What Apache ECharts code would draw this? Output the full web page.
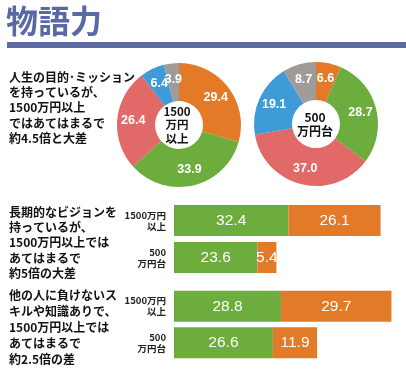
<!DOCTYPE html>
<html>
<head>
<meta charset="utf-8">
<script src="https://cdn.jsdelivr.net/npm/echarts@6/dist/echarts.min.js"></script>
<style>
html,body{margin:0;padding:0;background:#fff;}
#chart{width:406px;height:372px;}
</style>
</head>
<body>
<div id="chart"></div>
<script>
// ---- data ----
const titleText = '物語力';
const pieSliceNames = ['区分1', '区分2', '区分3', '区分4', '区分5'];
const pieHighValues = [29.4, 33.9, 26.4, 6.4, 3.9];   // 1500万円以上
const pieLowValues = [6.6, 28.7, 37.0, 19.1, 8.7];    // 500万円台
const pieHighCenterLabel = '1500\n万円\n以上';
const pieLowCenterLabel = '500\n万円台';
const barGroups = ['1500万円\n以上', '500\n万円台'];
const visionGreen = [32.4, 23.6];
const visionOrange = [26.1, 5.4];
const skillGreen = [28.8, 26.6];
const skillOrange = [29.7, 11.9];
const noteMission = '人生の目的･ミッション\nを持っているが、\n1500万円以上\nではあてはまるで\n約4.5倍と大差';
const noteVision = '長期的なビジョンを\n持っているが、\n1500万円以上では\nあてはまるで\n約5倍の大差';
const noteSkill = '他の人に負けないス\nキルや知識ありで、\n1500万円以上では\nあてはまるで\n約2.5倍の差';

// ---- style ----
const C_ORANGE = '#e37a27';
const C_GREEN = '#6cad3e';
const C_RED = '#e16a69';
const C_BLUE = '#3f9ad8';
const C_GRAY = '#a09b99';
const pieColors = [C_ORANGE, C_GREEN, C_RED, C_BLUE, C_GRAY];
const CJK = '"Noto Sans CJK JP", sans-serif';
const NUM = '"Liberation Sans", Arial, sans-serif';

const chart = echarts.init(document.getElementById('chart'), null, {renderer: 'canvas'});

function pieSeries(values, center) {
  return {
    type: 'pie',
    center: center,
    radius: [24, 62],
    startAngle: 90,
    clockwise: true,
    silent: true,
    avoidLabelOverlap: false,
    minShowLabelAngle: 0,
    color: pieColors,
    label: {
      show: true,
      position: 'inside',
      color: '#fff',
      fontFamily: NUM,
      fontSize: 12.5,
      fontWeight: 'bold',
      formatter: p => p.value.toFixed(1)
    },
    labelLine: {show: false},
    labelLayout: {hideOverlap: false},
    itemStyle: {borderWidth: 0},
    data: values.map((v, i) => ({name: pieSliceNames[i], value: v}))
  };
}

function barLabel() {
  return {
    show: true,
    position: 'inside',
    color: '#fff',
    fontFamily: NUM,
    fontSize: 15.5,
    formatter: p => p.value.toFixed(1)
  };
}

const yAxisCommon = {
  type: 'category',
  data: barGroups,
  inverse: true,
  axisLine: {show: false},
  axisTick: {show: false},
  axisLabel: {
    color: '#222',
    fontFamily: CJK,
    fontWeight: 'bold',
    fontSize: 9.5,
    lineHeight: 11,
    margin: 8,
    align: 'right'
  }
};

const option = {
  backgroundColor: '#fff',
  animation: false,
  grid: [
    {left: 174, top: 202, width: 226, height: 74},
    {left: 174, top: 288, width: 226, height: 73}
  ],
  xAxis: [
    {type: 'value', gridIndex: 0, min: 0, max: 64, show: false},
    {type: 'value', gridIndex: 1, min: 0, max: 60.8, show: false}
  ],
  yAxis: [
    Object.assign({gridIndex: 0}, yAxisCommon),
    Object.assign({gridIndex: 1}, yAxisCommon)
  ],
  series: [
    pieSeries(pieHighValues, [179, 125]),
    pieSeries(pieLowValues, [316, 124]),
    {type: 'bar', xAxisIndex: 0, yAxisIndex: 0, stack: 'v', barWidth: 31, silent: true,
     itemStyle: {color: C_GREEN}, label: barLabel(), data: visionGreen},
    {type: 'bar', xAxisIndex: 0, yAxisIndex: 0, stack: 'v', barWidth: 31, silent: true,
     itemStyle: {color: C_ORANGE}, label: barLabel(), data: visionOrange},
    {type: 'bar', xAxisIndex: 1, yAxisIndex: 1, stack: 's', barWidth: 31, silent: true,
     itemStyle: {color: C_GREEN}, label: barLabel(), data: skillGreen},
    {type: 'bar', xAxisIndex: 1, yAxisIndex: 1, stack: 's', barWidth: 31, silent: true,
     itemStyle: {color: C_ORANGE}, label: barLabel(), data: skillOrange}
  ],
  graphic: [
    {type: 'text', x: 6, y: 21, style: {text: titleText, font: 'bold 32px ' + CJK, fill: '#5b68a6', verticalAlign: 'middle'}},
    {type: 'rect', shape: {x: 7, y: 42, width: 399, height: 6}, style: {fill: '#5d6aa8'}},
    {type: 'text', x: 9, y: 69.5, style: {text: noteMission, font: 'bold 12px ' + CJK, fill: '#111', lineHeight: 15.3}},
    {type: 'text', x: 9, y: 204.5, style: {text: noteVision, font: 'bold 12px ' + CJK, fill: '#111', lineHeight: 15.3}},
    {type: 'text', x: 9, y: 287, style: {text: noteSkill, font: 'bold 12px ' + CJK, fill: '#111', lineHeight: 16}},
    {type: 'text', x: 177, y: 125, style: {text: pieHighCenterLabel, font: 'bold 11.5px ' + CJK, fill: '#111', lineHeight: 13.3, align: 'center', verticalAlign: 'middle'}},
    {type: 'text', x: 315, y: 124, style: {text: pieLowCenterLabel, font: 'bold 12px ' + CJK, fill: '#111', lineHeight: 14, align: 'center', verticalAlign: 'middle'}}
  ]
};
chart.setOption(option);
</script>
</body>
</html>
